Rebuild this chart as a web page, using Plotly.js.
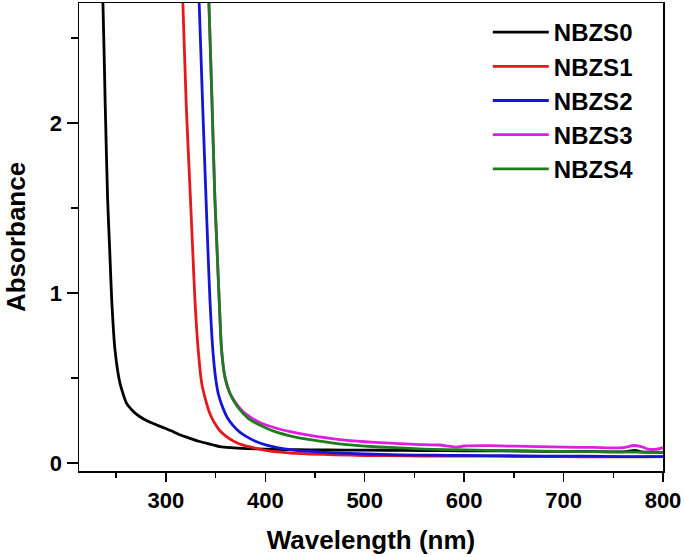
<!DOCTYPE html>
<html>
<head>
<meta charset="utf-8">
<script src="https://cdn.plot.ly/plotly-3.0.1.min.js"></script>
<style>html,body{margin:0;padding:0;background:#fff;}#chart{width:685px;height:557px;}</style>
</head>
<body>
<div id="chart"></div>
<script>
// Series names
var seriesNames = ["NBZS0", "NBZS1", "NBZS2", "NBZS3", "NBZS4"];

// NBZS0 (black)
var wl0 = [234.5, 236.7, 239, 241.4, 243.5, 245.5, 248.8, 253.8, 260.5, 267, 273.9, 282, 290.7, 299, 307.4, 314, 324.2, 333, 341, 347.6, 354.3, 365, 381, 400, 420, 444.8, 480, 520, 560, 600, 640, 680, 720, 760, 772, 778, 790, 800];
var abs0 = [3.0, 2.70, 2.10, 1.55, 1.25, 0.96, 0.665, 0.47, 0.351, 0.305, 0.272, 0.245, 0.224, 0.204, 0.184, 0.166, 0.145, 0.128, 0.116, 0.106, 0.096, 0.09, 0.085, 0.082, 0.079, 0.077, 0.076, 0.075, 0.073, 0.072, 0.071, 0.069, 0.068, 0.066, 0.074, 0.066, 0.064, 0.063];

// NBZS1 (red)
var wl1 = [315.0, 317.1, 320.5, 324.2, 327, 329.2, 332.5, 336, 340, 344.3, 349, 354.3, 360, 367.7, 376, 387.8, 400, 414.6, 430, 444.8, 470, 500, 540, 580, 620, 660, 700, 740, 780, 800];
var abs1 = [3.0, 2.70, 2.10, 1.62, 1.25, 0.96, 0.665, 0.47, 0.37, 0.29, 0.235, 0.19, 0.16, 0.13, 0.108, 0.09, 0.075, 0.064, 0.057, 0.053, 0.048, 0.044, 0.042, 0.040, 0.040, 0.038, 0.037, 0.036, 0.036, 0.037];

// NBZS2 (blue)
var wl2 = [331.5, 333.5, 337, 340.2, 342.3, 344.3, 347.2, 350, 353, 357.6, 362, 367.7, 374, 381.1, 390, 401.2, 412, 424.7, 444.8, 467.9, 500, 535, 570, 600, 640, 680, 720, 760, 800];
var abs2 = [3.0, 2.70, 2.10, 1.58, 1.25, 0.96, 0.665, 0.50, 0.40, 0.32, 0.265, 0.22, 0.183, 0.155, 0.128, 0.105, 0.09, 0.079, 0.068, 0.060, 0.053, 0.048, 0.046, 0.045, 0.043, 0.041, 0.040, 0.038, 0.037];

// NBZS3 (magenta)
var wl3 = [341.3, 343.3, 346.5, 349.3, 351.5, 353.6, 356, 359.3, 364.4, 372.7, 378, 385, 392, 400, 412, 425, 445, 465, 485, 500, 520, 550, 575, 585, 592, 600, 625, 650, 675, 700, 730, 760, 770, 778, 785, 792, 800];
var abs3 = [3.0, 2.70, 2.10, 1.55, 1.25, 0.96, 0.665, 0.508, 0.41, 0.335, 0.30, 0.27, 0.245, 0.225, 0.203, 0.185, 0.162, 0.145, 0.132, 0.125, 0.118, 0.110, 0.106, 0.098, 0.094, 0.100, 0.102, 0.099, 0.096, 0.093, 0.092, 0.090, 0.103, 0.097, 0.082, 0.080, 0.090];

// NBZS4 (green)
var wl4 = [341.3, 343.3, 346.5, 349.3, 351.5, 353.6, 356, 359.3, 364.4, 372.7, 384.5, 401.2, 412, 424.7, 444.8, 465, 482, 500, 530, 560, 600, 650, 700, 750, 800];
var abs4 = [3.0, 2.70, 2.10, 1.55, 1.25, 0.96, 0.665, 0.508, 0.41, 0.325, 0.255, 0.205, 0.18, 0.16, 0.137, 0.12, 0.108, 0.099, 0.09, 0.082, 0.077, 0.072, 0.068, 0.065, 0.062];

var xs = [wl0, wl1, wl2, wl3, wl4];
var ys = [abs0, abs1, abs2, abs3, abs4];
var colors = ["#000000", "#e3191c", "#1515d6", "#e21de2", "#1b7d1b"];

var xTickVals = [300, 400, 500, 600, 700, 800];
var yTickVals = [0, 1, 2];

var traces = [];
for (var i = 0; i < seriesNames.length; i++) {
  traces.push({
    x: xs[i], y: ys[i], name: seriesNames[i], type: 'scatter', mode: 'lines',
    line: {color: colors[i], width: 2.8, shape: 'spline', smoothing: 0.6}
  });
}

var fontFam = 'Arial, "Liberation Sans", sans-serif';
var layout = {
  width: 685, height: 557,
  margin: {l: 79, r: 22, t: 3, b: 86},
  paper_bgcolor: '#ffffff', plot_bgcolor: '#ffffff',
  showlegend: true,
  legend: {
    x: 0.70, y: 0.985, xanchor: 'left', yanchor: 'top',
    bgcolor: 'rgba(0,0,0,0)', borderwidth: 0,
    itemwidth: 56,
    font: {family: fontFam, size: 24, color: '#000', weight: 'bold'},
    tracegroupgap: 0
  },
  xaxis: {
    range: [212.6, 800],
    tickmode: 'array', tickvals: xTickVals,
    ticks: 'outside', ticklen: 9, tickwidth: 1.5, tickcolor: '#000',
    minor: {dtick: 50, tick0: 0, ticks: 'outside', ticklen: 5, tickwidth: 1.5, tickcolor: '#000'},
    showline: true, linecolor: '#000', linewidth: 1.5, mirror: true,
    showgrid: false, zeroline: false,
    tickfont: {family: fontFam, size: 22, color: '#000', weight: 'bold'},
    title: {text: 'Wavelength (nm)', font: {family: fontFam, size: 26, color: '#000', weight: 'bold'}, standoff: 19}
  },
  yaxis: {
    range: [-0.047, 2.706],
    tickmode: 'array', tickvals: yTickVals,
    ticks: 'outside', ticklen: 11, tickwidth: 1.5, tickcolor: '#000',
    minor: {dtick: 0.5, tick0: 0, ticks: 'outside', ticklen: 7, tickwidth: 1.5, tickcolor: '#000'},
    showline: true, linecolor: '#000', linewidth: 1.5, mirror: true,
    showgrid: false, zeroline: false,
    tickfont: {family: fontFam, size: 22, color: '#000', weight: 'bold'},
    title: {text: 'Absorbance', font: {family: fontFam, size: 26, color: '#000', weight: 'bold'}, standoff: 16}
  }
};

Plotly.newPlot('chart', traces, layout, {displayModeBar: false, staticPlot: true});
</script>
</body>
</html>
